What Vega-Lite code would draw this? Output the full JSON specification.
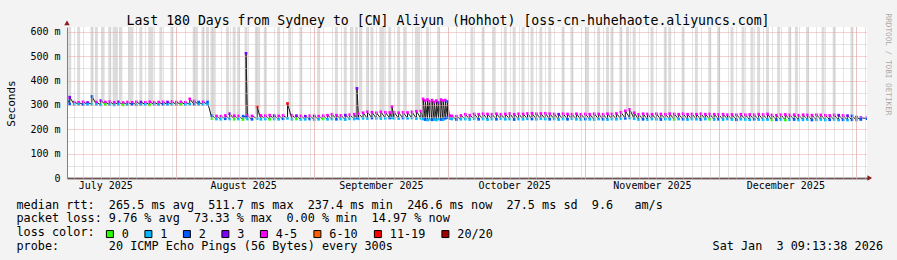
{
"$schema":"https://vega.github.io/schema/vega-lite/v6.json",
"width":800,"height":151,
"autosize":{"type":"none"},
"padding":{"left":67,"top":27,"right":30,"bottom":82},
"background":"#f3f3f3",
"config":{"view":{"stroke":null,"fill":"white"},"font":"DejaVu Sans Mono"},
"title":{"text":"Last 180 Days from Sydney to [CN] Aliyun (Hohhot) [oss-cn-huhehaote.aliyuncs.com]","font":"DejaVu Sans Mono","fontSize":13.2,"fontWeight":"normal","color":"#000000","anchor":"middle","frame":"group","baseline":"alphabetic","offset":0,"dy":25,"dx":-19},
"datasets":{
"median":[
{"t":"2025-07-07T10:00Z","lo":318,"hi":326,"lc":"1","hc":"4-5"},
{"t":"2025-07-08","lo":304,"hi":332,"lc":"2","hc":"3"},
{"t":"2025-07-09","lo":302,"hi":312,"lc":"1","hc":"4-5"},
{"t":"2025-07-10","lo":303,"hi":311,"lc":"1","hc":"4-5"},
{"t":"2025-07-11","lo":301,"hi":313,"lc":"2","hc":"4-5"},
{"t":"2025-07-12","lo":302,"hi":310,"lc":"1","hc":"3"},
{"t":"2025-07-13","lo":303,"hi":335,"lc":"1","hc":"2"},
{"t":"2025-07-14","lo":302,"hi":312,"lc":"1","hc":"4-5"},
{"t":"2025-07-15","lo":300,"hi":318,"lc":"1","hc":"3"},
{"t":"2025-07-16","lo":302,"hi":312,"lc":"0","hc":"4-5"},
{"t":"2025-07-17","lo":301,"hi":314,"lc":"1","hc":"4-5"},
{"t":"2025-07-18","lo":300,"hi":311,"lc":"1","hc":"4-5"},
{"t":"2025-07-19","lo":302,"hi":313,"lc":"1","hc":"3"},
{"t":"2025-07-20","lo":300,"hi":310,"lc":"0","hc":"4-5"},
{"t":"2025-07-21","lo":301,"hi":312,"lc":"1","hc":"4-5"},
{"t":"2025-07-22","lo":302,"hi":311,"lc":"2","hc":"4-5"},
{"t":"2025-07-23","lo":300,"hi":313,"lc":"1","hc":"4-5"},
{"t":"2025-07-24","lo":301,"hi":312,"lc":"1","hc":"3"},
{"t":"2025-07-25","lo":302,"hi":311,"lc":"1","hc":"4-5"},
{"t":"2025-07-26","lo":300,"hi":313,"lc":"0","hc":"4-5"},
{"t":"2025-07-27","lo":302,"hi":311,"lc":"1","hc":"4-5"},
{"t":"2025-07-28","lo":301,"hi":312,"lc":"1","hc":"4-5"},
{"t":"2025-07-29","lo":302,"hi":313,"lc":"2","hc":"4-5"},
{"t":"2025-07-30","lo":301,"hi":312,"lc":"1","hc":"3"},
{"t":"2025-07-31","lo":302,"hi":314,"lc":"1","hc":"4-5"},
{"t":"2025-08-01","lo":301,"hi":312,"lc":"1","hc":"4-5"},
{"t":"2025-08-02","lo":302,"hi":313,"lc":"0","hc":"4-5"},
{"t":"2025-08-03","lo":301,"hi":311,"lc":"1","hc":"4-5"},
{"t":"2025-08-04","lo":303,"hi":325,"lc":"1","hc":"4-5"},
{"t":"2025-08-05","lo":302,"hi":316,"lc":"2","hc":"4-5"},
{"t":"2025-08-06","lo":302,"hi":312,"lc":"1","hc":"2"},
{"t":"2025-08-07","lo":301,"hi":313,"lc":"1","hc":"4-5"},
{"t":"2025-08-08","lo":302,"hi":312,"lc":"1","hc":"2"},
{"t":"2025-08-09","lo":244,"hi":256,"lc":"0","hc":"2"},
{"t":"2025-08-10","lo":242,"hi":255,"lc":"1","hc":"4-5"},
{"t":"2025-08-11","lo":241,"hi":254,"lc":"1","hc":"4-5"},
{"t":"2025-08-12","lo":243,"hi":257,"lc":"2","hc":"4-5"},
{"t":"2025-08-13","lo":242,"hi":264,"lc":"1","hc":"3"},
{"t":"2025-08-14","lo":241,"hi":256,"lc":"0","hc":"4-5"},
{"t":"2025-08-15","lo":242,"hi":255,"lc":"1","hc":"4-5"},
{"t":"2025-08-16","lo":240,"hi":254,"lc":"0","hc":"2"},
{"t":"2025-08-16T16:00Z","lo":250,"hi":512,"lc":"2","hc":"3"},
{"t":"2025-08-17","lo":242,"hi":256,"lc":"1","hc":"4-5"},
{"t":"2025-08-18","lo":241,"hi":255,"lc":"2","hc":"4-5"},
{"t":"2025-08-19T04:00Z","lo":244,"hi":292,"lc":"1","hc":"11-19"},
{"t":"2025-08-20","lo":241,"hi":257,"lc":"1","hc":"4-5"},
{"t":"2025-08-21","lo":242,"hi":256,"lc":"1","hc":"4-5"},
{"t":"2025-08-22","lo":241,"hi":258,"lc":"0","hc":"4-5"},
{"t":"2025-08-23","lo":242,"hi":256,"lc":"1","hc":"3"},
{"t":"2025-08-24","lo":241,"hi":255,"lc":"1","hc":"4-5"},
{"t":"2025-08-25","lo":243,"hi":257,"lc":"2","hc":"4-5"},
{"t":"2025-08-26","lo":245,"hi":306,"lc":"1","hc":"11-19"},
{"t":"2025-08-27","lo":241,"hi":258,"lc":"1","hc":"4-5"},
{"t":"2025-08-28","lo":242,"hi":256,"lc":"0","hc":"3"},
{"t":"2025-08-29","lo":240,"hi":255,"lc":"1","hc":"4-5"},
{"t":"2025-08-30","lo":241,"hi":254,"lc":"1","hc":"3"},
{"t":"2025-08-31","lo":242,"hi":256,"lc":"2","hc":"4-5"},
{"t":"2025-09-01","lo":240,"hi":255,"lc":"1","hc":"3"},
{"t":"2025-09-02","lo":241,"hi":254,"lc":"1","hc":"4-5"},
{"t":"2025-09-03","lo":242,"hi":256,"lc":"0","hc":"4-5"},
{"t":"2025-09-04","lo":241,"hi":258,"lc":"1","hc":"4-5"},
{"t":"2025-09-05","lo":242,"hi":262,"lc":"1","hc":"4-5"},
{"t":"2025-09-06","lo":241,"hi":258,"lc":"2","hc":"4-5"},
{"t":"2025-09-07","lo":242,"hi":257,"lc":"1","hc":"4-5"},
{"t":"2025-09-08","lo":240,"hi":258,"lc":"1","hc":"3"},
{"t":"2025-09-09","lo":243,"hi":260,"lc":"1","hc":"4-5"},
{"t":"2025-09-10","lo":242,"hi":262,"lc":"1","hc":"4-5"},
{"t":"2025-09-10T15:00Z","lo":246,"hi":368,"lc":"2","hc":"3"},
{"t":"2025-09-11","lo":243,"hi":264,"lc":"1","hc":"4-5"},
{"t":"2025-09-12","lo":245,"hi":268,"lc":"1","hc":"4-5"},
{"t":"2025-09-13","lo":244,"hi":272,"lc":"1","hc":"4-5"},
{"t":"2025-09-14","lo":246,"hi":270,"lc":"2","hc":"4-5"},
{"t":"2025-09-15","lo":245,"hi":268,"lc":"1","hc":"4-5"},
{"t":"2025-09-16","lo":244,"hi":272,"lc":"1","hc":"4-5"},
{"t":"2025-09-17","lo":245,"hi":270,"lc":"1","hc":"4-5"},
{"t":"2025-09-18","lo":246,"hi":269,"lc":"2","hc":"4-5"},
{"t":"2025-09-18T12:00Z","lo":247,"hi":294,"lc":"1","hc":"4-5"},
{"t":"2025-09-19","lo":245,"hi":270,"lc":"1","hc":"4-5"},
{"t":"2025-09-20","lo":244,"hi":268,"lc":"1","hc":"4-5"},
{"t":"2025-09-21","lo":246,"hi":270,"lc":"2","hc":"4-5"},
{"t":"2025-09-22","lo":245,"hi":269,"lc":"1","hc":"4-5"},
{"t":"2025-09-23","lo":246,"hi":272,"lc":"1","hc":"4-5"},
{"t":"2025-09-24","lo":244,"hi":274,"lc":"1","hc":"4-5"},
{"t":"2025-09-25","lo":245,"hi":275,"lc":"1","hc":"4-5"},
{"t":"2025-09-25T12:00Z","lo":242,"hi":325,"lc":"1","hc":"4-5"},
{"t":"2025-09-26","lo":240,"hi":318,"lc":"2","hc":"4-5"},
{"t":"2025-09-26T12:00Z","lo":238,"hi":322,"lc":"1","hc":"4-5"},
{"t":"2025-09-27","lo":241,"hi":315,"lc":"1","hc":"4-5"},
{"t":"2025-09-27T12:00Z","lo":239,"hi":320,"lc":"2","hc":"4-5"},
{"t":"2025-09-28","lo":240,"hi":312,"lc":"1","hc":"4-5"},
{"t":"2025-09-28T12:00Z","lo":238,"hi":318,"lc":"1","hc":"4-5"},
{"t":"2025-09-29","lo":242,"hi":310,"lc":"1","hc":"3"},
{"t":"2025-09-29T12:00Z","lo":240,"hi":322,"lc":"2","hc":"4-5"},
{"t":"2025-09-30","lo":239,"hi":318,"lc":"1","hc":"4-5"},
{"t":"2025-09-30T12:00Z","lo":245,"hi":320,"lc":"2","hc":"4-5"},
{"t":"2025-10-01","lo":248,"hi":314,"lc":"2","hc":"2"},
{"t":"2025-10-01T12:00Z","lo":244,"hi":256,"lc":"1","hc":"4-5"},
{"t":"2025-10-02","lo":242,"hi":255,"lc":"1","hc":"4-5"},
{"t":"2025-10-03","lo":240,"hi":254,"lc":"2","hc":"4-5"},
{"t":"2025-10-04","lo":241,"hi":257,"lc":"1","hc":"4-5"},
{"t":"2025-10-05","lo":242,"hi":262,"lc":"1","hc":"4-5"},
{"t":"2025-10-06","lo":240,"hi":258,"lc":"1","hc":"4-5"},
{"t":"2025-10-07","lo":243,"hi":263,"lc":"1","hc":"4-5"},
{"t":"2025-10-08","lo":241,"hi":262,"lc":"2","hc":"4-5"},
{"t":"2025-10-09","lo":242,"hi":264,"lc":"1","hc":"4-5"},
{"t":"2025-10-10","lo":240,"hi":263,"lc":"1","hc":"4-5"},
{"t":"2025-10-11","lo":242,"hi":262,"lc":"1","hc":"4-5"},
{"t":"2025-10-12","lo":241,"hi":264,"lc":"2","hc":"4-5"},
{"t":"2025-10-13","lo":243,"hi":262,"lc":"1","hc":"4-5"},
{"t":"2025-10-14","lo":241,"hi":263,"lc":"1","hc":"4-5"},
{"t":"2025-10-15","lo":242,"hi":265,"lc":"1","hc":"4-5"},
{"t":"2025-10-16","lo":240,"hi":262,"lc":"2","hc":"4-5"},
{"t":"2025-10-17","lo":242,"hi":264,"lc":"1","hc":"4-5"},
{"t":"2025-10-18","lo":241,"hi":263,"lc":"1","hc":"4-5"},
{"t":"2025-10-19","lo":243,"hi":265,"lc":"1","hc":"4-5"},
{"t":"2025-10-20","lo":242,"hi":266,"lc":"2","hc":"4-5"},
{"t":"2025-10-21","lo":241,"hi":264,"lc":"1","hc":"4-5"},
{"t":"2025-10-22","lo":243,"hi":265,"lc":"1","hc":"4-5"},
{"t":"2025-10-23","lo":242,"hi":266,"lc":"1","hc":"4-5"},
{"t":"2025-10-24","lo":241,"hi":264,"lc":"2","hc":"4-5"},
{"t":"2025-10-25","lo":242,"hi":263,"lc":"1","hc":"4-5"},
{"t":"2025-10-26","lo":240,"hi":262,"lc":"1","hc":"3"},
{"t":"2025-10-27","lo":242,"hi":264,"lc":"1","hc":"4-5"},
{"t":"2025-10-28","lo":241,"hi":263,"lc":"2","hc":"4-5"},
{"t":"2025-10-29","lo":243,"hi":262,"lc":"1","hc":"4-5"},
{"t":"2025-10-30","lo":241,"hi":264,"lc":"1","hc":"4-5"},
{"t":"2025-10-31","lo":240,"hi":262,"lc":"1","hc":"4-5"},
{"t":"2025-11-01","lo":242,"hi":263,"lc":"2","hc":"4-5"},
{"t":"2025-11-02","lo":241,"hi":262,"lc":"1","hc":"4-5"},
{"t":"2025-11-03","lo":240,"hi":264,"lc":"1","hc":"4-5"},
{"t":"2025-11-04","lo":242,"hi":263,"lc":"1","hc":"4-5"},
{"t":"2025-11-05","lo":241,"hi":262,"lc":"2","hc":"4-5"},
{"t":"2025-11-06","lo":240,"hi":264,"lc":"1","hc":"4-5"},
{"t":"2025-11-07","lo":242,"hi":263,"lc":"1","hc":"4-5"},
{"t":"2025-11-08","lo":241,"hi":265,"lc":"1","hc":"4-5"},
{"t":"2025-11-09","lo":243,"hi":270,"lc":"1","hc":"4-5"},
{"t":"2025-11-10","lo":245,"hi":276,"lc":"2","hc":"4-5"},
{"t":"2025-11-11","lo":246,"hi":282,"lc":"1","hc":"4-5"},
{"t":"2025-11-12","lo":243,"hi":268,"lc":"1","hc":"4-5"},
{"t":"2025-11-13","lo":240,"hi":262,"lc":"1","hc":"4-5"},
{"t":"2025-11-14","lo":241,"hi":264,"lc":"2","hc":"4-5"},
{"t":"2025-11-15","lo":240,"hi":263,"lc":"1","hc":"4-5"},
{"t":"2025-11-16","lo":242,"hi":262,"lc":"1","hc":"4-5"},
{"t":"2025-11-17","lo":241,"hi":264,"lc":"1","hc":"4-5"},
{"t":"2025-11-18","lo":240,"hi":263,"lc":"2","hc":"4-5"},
{"t":"2025-11-19","lo":242,"hi":262,"lc":"1","hc":"4-5"},
{"t":"2025-11-20","lo":241,"hi":264,"lc":"1","hc":"4-5"},
{"t":"2025-11-21","lo":240,"hi":263,"lc":"0","hc":"4-5"},
{"t":"2025-11-22","lo":242,"hi":262,"lc":"1","hc":"4-5"},
{"t":"2025-11-23","lo":241,"hi":264,"lc":"2","hc":"4-5"},
{"t":"2025-11-24","lo":240,"hi":262,"lc":"1","hc":"4-5"},
{"t":"2025-11-25","lo":242,"hi":263,"lc":"1","hc":"4-5"},
{"t":"2025-11-26","lo":241,"hi":262,"lc":"1","hc":"4-5"},
{"t":"2025-11-27","lo":240,"hi":264,"lc":"2","hc":"4-5"},
{"t":"2025-11-28","lo":242,"hi":262,"lc":"1","hc":"4-5"},
{"t":"2025-11-29","lo":241,"hi":263,"lc":"0","hc":"4-5"},
{"t":"2025-11-30","lo":240,"hi":262,"lc":"1","hc":"4-5"},
{"t":"2025-12-01","lo":241,"hi":261,"lc":"2","hc":"4-5"},
{"t":"2025-12-02","lo":240,"hi":262,"lc":"1","hc":"4-5"},
{"t":"2025-12-03","lo":242,"hi":260,"lc":"1","hc":"4-5"},
{"t":"2025-12-04","lo":240,"hi":261,"lc":"1","hc":"4-5"},
{"t":"2025-12-05","lo":239,"hi":260,"lc":"2","hc":"4-5"},
{"t":"2025-12-06","lo":241,"hi":262,"lc":"1","hc":"4-5"},
{"t":"2025-12-07","lo":240,"hi":260,"lc":"1","hc":"4-5"},
{"t":"2025-12-08","lo":239,"hi":261,"lc":"1","hc":"4-5"},
{"t":"2025-12-09","lo":241,"hi":260,"lc":"2","hc":"4-5"},
{"t":"2025-12-10","lo":240,"hi":262,"lc":"1","hc":"4-5"},
{"t":"2025-12-11","lo":239,"hi":261,"lc":"1","hc":"4-5"},
{"t":"2025-12-12","lo":240,"hi":263,"lc":"1","hc":"4-5"},
{"t":"2025-12-13","lo":238,"hi":259,"lc":"0","hc":"4-5"},
{"t":"2025-12-14","lo":239,"hi":258,"lc":"2","hc":"4-5"},
{"t":"2025-12-15","lo":240,"hi":260,"lc":"1","hc":"4-5"},
{"t":"2025-12-16","lo":238,"hi":261,"lc":"0","hc":"4-5"},
{"t":"2025-12-17","lo":239,"hi":259,"lc":"1","hc":"4-5"},
{"t":"2025-12-18","lo":240,"hi":260,"lc":"2","hc":"4-5"},
{"t":"2025-12-19","lo":238,"hi":258,"lc":"1","hc":"4-5"},
{"t":"2025-12-20","lo":239,"hi":260,"lc":"1","hc":"4-5"},
{"t":"2025-12-21","lo":240,"hi":259,"lc":"1","hc":"4-5"},
{"t":"2025-12-22","lo":238,"hi":258,"lc":"2","hc":"4-5"},
{"t":"2025-12-23","lo":239,"hi":260,"lc":"1","hc":"4-5"},
{"t":"2025-12-24","lo":240,"hi":259,"lc":"1","hc":"4-5"},
{"t":"2025-12-25","lo":238,"hi":258,"lc":"1","hc":"4-5"},
{"t":"2025-12-26","lo":239,"hi":257,"lc":"2","hc":"4-5"},
{"t":"2025-12-27","lo":240,"hi":259,"lc":"1","hc":"4-5"},
{"t":"2025-12-28","lo":238,"hi":258,"lc":"1","hc":"3"},
{"t":"2025-12-29","lo":239,"hi":257,"lc":"2","hc":"4-5"},
{"t":"2025-12-30","lo":238,"hi":256,"lc":"1","hc":"3"},
{"t":"2025-12-31","lo":239,"hi":255,"lc":"2","hc":"2"},
{"t":"2026-01-01","lo":238,"hi":250,"lc":"1","hc":"2"},
{"t":"2026-01-02","lo":240,"hi":248,"lc":"2","hc":"3"},
{"t":"2026-01-03T08:00Z","lo":244,"hi":247,"lc":"2","hc":"4-5"}
],
"smoke":[
{"t":"2025-07-08","b":314},{"t":"2025-07-10","b":312},{"t":"2025-07-13","b":312},{"t":"2025-07-14","b":312},
{"t":"2025-07-15T12:00Z","b":312},{"t":"2025-07-17","b":312},{"t":"2025-07-18","b":312},{"t":"2025-07-18T12:00Z","b":312},
{"t":"2025-07-19T12:00Z","b":312},{"t":"2025-07-21T12:00Z","b":312},{"t":"2025-07-22","b":312},{"t":"2025-07-24","b":312},
{"t":"2025-07-26","b":312},{"t":"2025-07-26T12:00Z","b":312},{"t":"2025-07-28T12:00Z","b":312},{"t":"2025-07-31","b":312},
{"t":"2025-08-05","b":314},{"t":"2025-08-05T12:00Z","b":314},{"t":"2025-08-07","b":312},{"t":"2025-08-08","b":312},
{"t":"2025-08-09","b":258},{"t":"2025-08-09T12:00Z","b":258},{"t":"2025-08-12T12:00Z","b":258},{"t":"2025-08-14","b":258},
{"t":"2025-08-15","b":258},{"t":"2025-08-16T16:00Z","b":300},{"t":"2025-08-19","b":262},{"t":"2025-08-19T12:00Z","b":258},
{"t":"2025-08-21","b":258},{"t":"2025-08-24","b":258},{"t":"2025-08-26T12:00Z","b":258},{"t":"2025-08-29","b":258},
{"t":"2025-09-02","b":258},{"t":"2025-09-06","b":260},{"t":"2025-09-08","b":260},
{"t":"2025-09-09T12:00Z","b":265},{"t":"2025-09-10T12:00Z","b":265},{"t":"2025-09-11T12:00Z","b":265},{"t":"2025-09-13","b":268},
{"t":"2025-09-14","b":268},{"t":"2025-09-16","b":268},{"t":"2025-09-16T12:00Z","b":268},{"t":"2025-09-18","b":268},
{"t":"2025-09-20","b":268},{"t":"2025-09-21T12:00Z","b":268},{"t":"2025-09-24","b":270},{"t":"2025-09-24T12:00Z","b":270},
{"t":"2025-09-26T12:00Z","b":310},{"t":"2025-09-29","b":310},
{"t":"2025-10-06T12:00Z","b":262},{"t":"2025-10-09","b":262},{"t":"2025-10-11T12:00Z","b":262},{"t":"2025-10-14","b":262},
{"t":"2025-10-16","b":262},{"t":"2025-10-18","b":262},{"t":"2025-10-20","b":262},{"t":"2025-10-22","b":262},
{"t":"2025-10-24","b":262},{"t":"2025-10-27","b":262},{"t":"2025-10-29","b":262},{"t":"2025-11-01T12:00Z","b":262},
{"t":"2025-11-04","b":262},{"t":"2025-11-06","b":262},{"t":"2025-11-07","b":262},{"t":"2025-11-09","b":268},
{"t":"2025-11-10T12:00Z","b":272},{"t":"2025-11-12","b":266},{"t":"2025-11-16","b":262},{"t":"2025-11-19","b":262},
{"t":"2025-11-20","b":262},{"t":"2025-11-23","b":262},{"t":"2025-11-26","b":262},{"t":"2025-11-29","b":262},
{"t":"2025-12-01","b":262},{"t":"2025-12-04","b":262},{"t":"2025-12-06T12:00Z","b":262},{"t":"2025-12-08T12:00Z","b":262},
{"t":"2025-12-10","b":262},{"t":"2025-12-12","b":262},{"t":"2025-12-14T12:00Z","b":262},{"t":"2025-12-17","b":262},
{"t":"2025-12-18T12:00Z","b":262},{"t":"2025-12-21","b":262},{"t":"2025-12-24T12:00Z","b":262},{"t":"2025-12-27","b":262},
{"t":"2025-12-31","b":258}
]
},
"layer":[
{
"data":{"name":"smoke"},
"mark":{"type":"rule","strokeWidth":3,"color":"#dcdcdc","clip":true},
"encoding":{
"x":{"field":"t","type":"temporal","scale":{"type":"utc","domain":[{"year":2025,"month":7,"date":7,"hours":9,"minutes":13,"utc":true},{"year":2026,"month":1,"date":3,"hours":9,"minutes":13,"utc":true}]},
"axis":{"orient":"bottom","title":null,"labels":false,"ticks":false,"domain":false,"grid":true,"gridColor":"#c8c8c8","gridDash":[1,1],"gridWidth":1,"tickCount":{"interval":"day","step":2},"zindex":1}},
"y":{"field":"b","type":"quantitative","scale":{"domain":[0,620],"nice":false},
"axis":{"orient":"left","title":null,"labels":false,"ticks":false,"domain":false,"grid":true,"gridColor":"#c8c8c8","gridDash":[1,1],"values":[50,150,250,350,450,550],"zindex":1}},
"y2":{"datum":620}
}
},
{
"data":{"name":"median"},
"transform":[{"fold":["lo","hi"],"as":["k","v"]}],
"mark":{"type":"line","color":"#1a1a1a","strokeWidth":1,"clip":true},
"encoding":{
"x":{"field":"t","type":"temporal","scale":{"type":"utc"},
"axis":{"orient":"bottom","title":null,"labels":false,"ticks":false,"domain":false,"grid":true,"gridColor":"#eaa2a2","gridDash":[1,1],"gridWidth":1,
"values":[{"year":2025,"month":8,"date":1,"utc":true},{"year":2025,"month":9,"date":1,"utc":true},{"year":2025,"month":10,"date":1,"utc":true},{"year":2025,"month":11,"date":1,"utc":true},{"year":2025,"month":12,"date":1,"utc":true},{"year":2026,"month":1,"date":1,"utc":true}],"zindex":1}},
"y":{"field":"v","type":"quantitative","scale":{"domain":[0,620],"nice":false},
"axis":{"orient":"left","title":"Seconds","titleFont":"DejaVu Sans Mono","titleFontSize":11,"titleFontWeight":"normal","titleColor":"#000000","titleX":-56,"titleY":76,"titleAngle":-90,"titleBaseline":"middle","titleAlign":"center",
"values":[0,100,200,300,400,500,600],"labelExpr":"datum.value == 0 ? '0' : datum.value + ' m'","labelFont":"DejaVu Sans Mono","labelFontSize":10,"labelColor":"#000000","labelPadding":7,
"ticks":false,"domain":true,"domainColor":"#808080","domainWidth":1,"grid":true,"gridColor":"#eaa2a2","gridDash":[1,1],"zindex":1}},
"order":[{"field":"t","type":"temporal"},{"field":"k","sort":"descending"}]
}
},
{
"data":{"name":"median"},
"mark":{"type":"square","size":7,"opacity":1,"clip":true},
"encoding":{
"x":{"field":"t","type":"temporal","scale":{"type":"utc"},
"axis":{"orient":"bottom","format":"%B %Y","labelFont":"DejaVu Sans Mono","labelFontSize":10,"labelColor":"#000000","labelPadding":2,"labelBaseline":"top","ticks":false,"grid":false,"domain":true,"domainColor":"#000000","domainWidth":1.5,
"values":[{"year":2025,"month":7,"date":16,"utc":true},{"year":2025,"month":8,"date":16,"utc":true},{"year":2025,"month":9,"date":16,"utc":true},{"year":2025,"month":10,"date":16,"utc":true},{"year":2025,"month":11,"date":16,"utc":true},{"year":2025,"month":12,"date":16,"utc":true}],
"title":["median\u00a0rtt:\u00a0\u00a0265.5\u00a0ms\u00a0avg\u00a0\u00a0511.7\u00a0ms\u00a0max\u00a0\u00a0237.4\u00a0ms\u00a0min\u00a0\u00a0246.6\u00a0ms\u00a0now\u00a0\u00a027.5\u00a0ms\u00a0sd\u00a0\u00a09.6\u00a0\u00a0\u00a0am/s",
"packet\u00a0loss:\u00a09.76\u00a0%\u00a0avg\u00a0\u00a073.33\u00a0%\u00a0max\u00a0\u00a00.00\u00a0%\u00a0min\u00a0\u00a014.97\u00a0%\u00a0now",
"loss\u00a0color:",
"probe:\u00a0\u00a0\u00a0\u00a0\u00a0\u00a0\u00a020\u00a0ICMP\u00a0Echo\u00a0Pings\u00a0(56\u00a0Bytes)\u00a0every\u00a0300s\u00a0\u00a0\u00a0\u00a0\u00a0\u00a0\u00a0\u00a0\u00a0\u00a0\u00a0\u00a0\u00a0\u00a0\u00a0\u00a0\u00a0\u00a0\u00a0\u00a0\u00a0\u00a0\u00a0\u00a0\u00a0\u00a0\u00a0\u00a0\u00a0\u00a0\u00a0\u00a0\u00a0\u00a0\u00a0\u00a0\u00a0\u00a0\u00a0\u00a0\u00a0\u00a0\u00a0\u00a0\u00a0Sat\u00a0Jan\u00a0\u00a03\u00a009:13:38\u00a02026"],
"titleFont":"DejaVu Sans Mono","titleFontSize":11.8,"titleFontWeight":"normal","titleColor":"#000000","titleAnchor":"start","titleAlign":"left","titleBaseline":"alphabetic","titleX":-51,"titleY":30,"titleLineHeight":13.8}},
"y":{"field":"hi","type":"quantitative","scale":{"domain":[0,620],"nice":false},"axis":null},
"color":{"field":"hc","type":"nominal",
"scale":{"domain":["0","1","2","3","4-5","6-10","11-19","20/20"],"range":["#26ff00","#00b8ff","#0059ff","#7e00ff","#ff00ff","#ff5e00","#ff0000","#a10000"]},
"legend":{"title":null,"orient":"none","legendX":37,"legendY":201,"direction":"horizontal",
"labelFont":"DejaVu Sans Mono","labelFontSize":11.8,"labelColor":"#000000","labelOffset":6,"symbolType":"square","symbolSize":49,"symbolStrokeColor":"#000000","symbolStrokeWidth":1,"symbolOpacity":1,"columnPadding":13.5,"padding":0}}
}
},
{
"data":{"name":"median"},
"mark":{"type":"square","size":7,"opacity":1,"clip":true},
"encoding":{
"x":{"field":"t","type":"temporal","scale":{"type":"utc"},"axis":null},
"y":{"field":"lo","type":"quantitative","scale":{"domain":[0,620],"nice":false},
"axis":{"orient":"right","title":"RRDTOOL / TOBI OETIKER","labels":false,"ticks":false,"domain":false,"grid":false,"titleAngle":90,"titleFont":"DejaVu Sans Mono","titleFontSize":7.7,"titleFontWeight":"normal","titleColor":"#a8a8a8","titleX":20,"titleY":37,"titleBaseline":"middle","titleAlign":"center"}},
"color":{"field":"lc","type":"nominal",
"scale":{"domain":["0","1","2","3","4-5","6-10","11-19","20/20"],"range":["#26ff00","#00b8ff","#0059ff","#7e00ff","#ff00ff","#ff5e00","#ff0000","#a10000"]},
"legend":{"title":null}}
}
},
{
"data":{"values":[{"a":"y"}]},
"mark":{"type":"point","shape":"triangle-up","size":30,"filled":true,"color":"#8b1a1a","opacity":1,"clip":false},
"encoding":{
"x":{"datum":{"year":2025,"month":7,"date":7,"hours":9,"minutes":13,"utc":true},"type":"temporal","scale":{"type":"utc"},"axis":null},
"y":{"datum":637,"type":"quantitative","axis":null}
}
},
{
"data":{"values":[{"a":"x"}]},
"mark":{"type":"point","shape":"triangle-right","size":30,"filled":true,"color":"#8b1a1a","opacity":1,"clip":false},
"encoding":{
"x":{"datum":{"year":2026,"month":1,"date":4,"hours":0,"utc":true},"type":"temporal","scale":{"type":"utc"},"axis":null},
"y":{"datum":0,"type":"quantitative","axis":null}
}
}
],
"resolve":{"axis":{"x":"independent","y":"independent"}}
}
